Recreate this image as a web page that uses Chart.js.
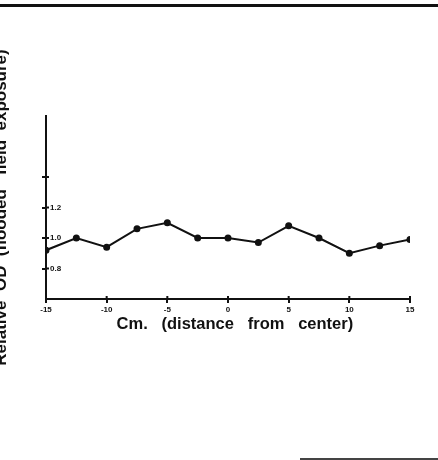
<!DOCTYPE html>
<html>
<head>
<meta charset="utf-8">
<script src="https://cdn.jsdelivr.net/npm/chart.js@4"></script>
<style>
  html, body { margin: 0; padding: 0; background: #fff; overflow: hidden; }
  body { width: 438px; height: 460px; position: relative; }
  #wrap { position: absolute; left: -6px; top: 0; width: 444px; height: 460px; }
  .edge { position: absolute; background: #111; }
</style>
</head>
<body>
<div class="edge" style="left:0;top:4px;width:438px;height:3px;"></div>
<div class="edge" style="left:300px;top:458px;width:138px;height:2px;background:#444;"></div>
<div id="wrap"><canvas id="myChart" width="444" height="460"></canvas></div>
<script>
  // distance from center (cm)
  const positions = [-15, -12.5, -10, -7.5, -5, -2.5, 0, 2.5, 5, 7.5, 10, 12.5, 15];
  // relative OD, flooded field exposure
  const relValues = [0.92, 1.00, 0.94, 1.06, 1.10, 1.00, 1.00, 0.97, 1.08, 1.00, 0.90, 0.95, 0.99];
  const yLabelled = [0.8, 1.0, 1.2];
  const yTicked = [0.8, 1.0, 1.2, 1.4];
  const xTicked = [-10, -5, 0, 5, 10, 15];

  const font = 'Liberation Sans, Arial, sans-serif';

  const data = {
    datasets: [{
      data: positions.map((x, i) => ({ x: x, y: relValues[i] })),
      borderColor: '#111',
      backgroundColor: '#111',
      borderWidth: 2,
      pointRadius: 2.5,
      pointHoverRadius: 2.5,
      tension: 0
    }]
  };

  const near = (v, list) => list.some(t => Math.abs(t - v) < 1e-6);

  // tick marks that also cross into the plot, like the original
  const innerTicks = {
    id: 'innerTicks',
    afterDatasetsDraw(chart) {
      const { ctx, scales: { x, y } } = chart;
      ctx.save();
      ctx.strokeStyle = '#111';
      ctx.lineWidth = 2;
      ctx.beginPath();
      yTicked.forEach(v => {
        const py = y.getPixelForValue(v);
        ctx.moveTo(x.left, py);
        ctx.lineTo(x.left + 3, py);
      });
      xTicked.forEach(v => {
        const px = x.getPixelForValue(v);
        ctx.moveTo(px, y.bottom);
        ctx.lineTo(px, y.bottom - 3);
      });
      ctx.stroke();
      ctx.restore();
    }
  };

  const config = {
    type: 'line',
    data: data,
    options: {
      responsive: false,
      animation: false,
      layout: { padding: { top: 116, right: 28, bottom: 126, left: 0 } },
      plugins: { legend: { display: false }, tooltip: { enabled: false } },
      scales: {
        x: {
          type: 'linear',
          min: -15,
          max: 15,
          afterFit: s => { s.height = 35; },
          border: { color: '#111', width: 2 },
          grid: { drawOnChartArea: false, color: '#111', lineWidth: 2, tickLength: 4 },
          ticks: {
            stepSize: 5,
            color: '#111',
            padding: 2,
            maxRotation: 0,
            font: { family: font, size: 8, weight: 'bold' }
          },
          title: {
            display: true,
            text: '   Cm.   (distance   from   center)',
            color: '#111',
            padding: 0,
            font: { family: font, size: 16.5, weight: 'bold' }
          }
        },
        y: {
          min: 0.6,
          max: 1.8,
          afterFit: s => { s.width = 52; },
          border: { color: '#111', width: 2 },
          grid: {
            drawOnChartArea: false,
            tickLength: 4,
            lineWidth: 2,
            color: c => near(c.tick.value, yTicked) ? '#111' : 'rgba(0,0,0,0)'
          },
          ticks: {
            stepSize: 0.2,
            mirror: true,
            padding: 4,
            color: '#111',
            font: { family: font, size: 8, weight: 'bold' },
            callback: v => near(v, yLabelled) ? v.toFixed(1) : ''
          },
          title: {
            display: true,
            text: 'Relative  OD  (flooded   field  exposure)',
            color: '#111',
            padding: { top: -3, bottom: 0 },
            font: { family: font, size: 17, weight: 'bold' }
          }
        }
      }
    },
    plugins: [innerTicks]
  };

  const myChart = new Chart(document.getElementById('myChart'), config);
</script>
</body>
</html>
